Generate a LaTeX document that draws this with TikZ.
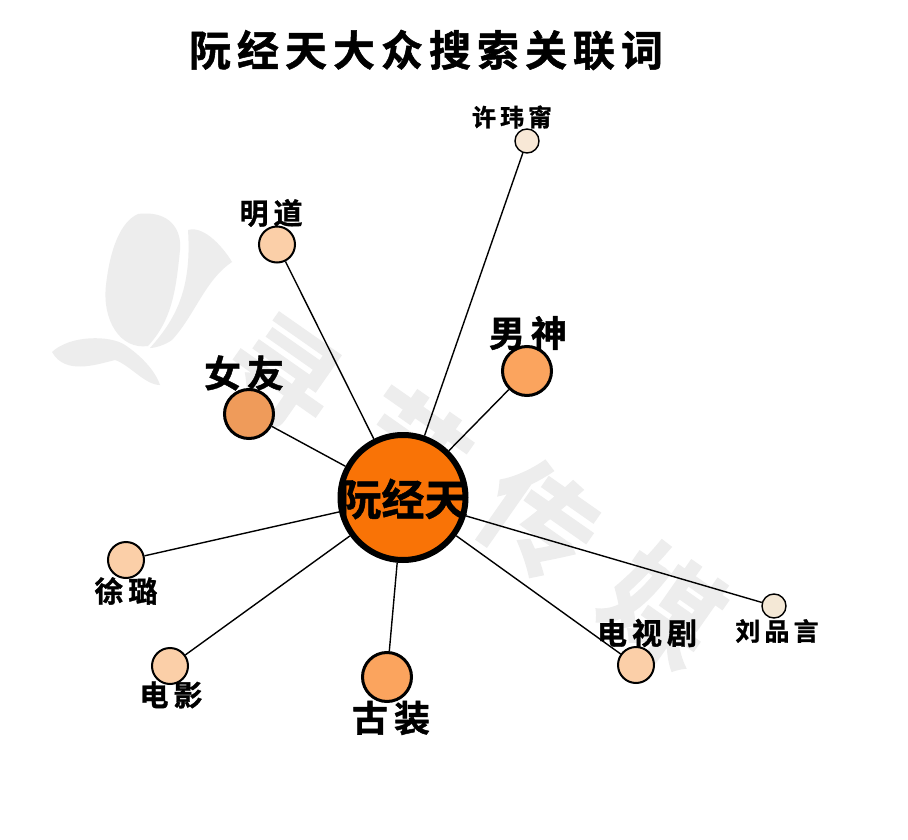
\documentclass[tikz,border=0pt]{standalone}
\usepackage{fontspec}
\newfontfamily\cjk{Noto Sans CJK SC}[BoldFont={Noto Sans CJK SC Bold},BoldFeatures={FakeBold=1.2}]
\newcommand{\sz}[1]{\cjk\bfseries\fontsize{#1}{#1}\selectfont}
\definecolor{wm}{HTML}{EDEDED}
\definecolor{hubc}{HTML}{F97306}
\definecolor{cA}{HTML}{EF9B5A}
\definecolor{cB}{HTML}{FBA45E}
\definecolor{cC}{HTML}{FBCFA8}
\definecolor{cD}{HTML}{F8E8D6}
\definecolor{cE}{HTML}{F4E8D6}
\tikzset{
  hub/.style={circle,draw=black,line width=6pt,fill=hubc,minimum size=125pt,inner sep=0pt},
  big/.style={circle,draw=black,line width=3pt,minimum size=49pt,inner sep=0pt},
  mid/.style={circle,draw=black,line width=2pt,minimum size=36pt,inner sep=0pt},
  tiny/.style={circle,draw=black,line width=1.4pt,minimum size=24pt,inner sep=0pt},
  lab/.style={text=black,inner sep=0pt},
  edge/.style={draw=black,line width=1.4pt},
  wmk/.style={text=wm,inner sep=0pt,rotate=-35,font=\sz{112}}
}
\begin{document}
\begin{tikzpicture}[x=1pt,y=-1pt]
\useasboundingbox (0,0) rectangle (908,840);
\fill[white] (0,0) rectangle (908,840);
% watermark flower
\fill[wm] (138,214) .. controls (170,210) and (182,230) .. (180,250) .. controls (176,290) and (172,320) .. (148,346) .. controls (120,350) and (102,320) .. (106,285) .. controls (110,250) and (120,222) .. (138,214) -- cycle;
\fill[wm] (188,230) .. controls (205,225) and (225,250) .. (232,262) .. controls (205,280) and (195,315) .. (172,340) .. controls (165,345) and (155,348) .. (150,348) .. controls (175,320) and (192,290) .. (188,230) -- cycle;
\fill[wm] (52,352) .. controls (70,335) and (110,335) .. (125,345) .. controls (140,355) and (155,370) .. (160,385) .. controls (145,385) and (130,365) .. (115,360) .. controls (95,365) and (65,375) .. (52,352) -- cycle;
% watermark text
\node[wmk] (w1) at (282,375) {寻};
\node[wmk] (w2) at (410,447) {艺};
\node[wmk] (w3) at (539,520) {传};
\node[wmk] (w4) at (664,605) {媒};
% title
\node[lab,font=\sz{42}] (title) at (426,50) {阮\hspace{6pt}经\hspace{6pt}天\hspace{6pt}大\hspace{6pt}众\hspace{6pt}搜\hspace{6pt}索\hspace{6pt}关\hspace{6pt}联\hspace{6pt}词};
% nodes
\node[hub] (c) at (403,497.5) {};
\node[tiny,fill=cD] (xu) at (527,141) {};
\node[mid,fill=cC] (md) at (277,244.5) {};
\node[big,fill=cB] (ns) at (527,371) {};
\node[big,fill=cA] (nv) at (249,414) {};
\node[mid,fill=cC] (tl) at (126,560) {};
\node[mid,fill=cC] (dy) at (170,666) {};
\node[big,fill=cB] (gz) at (387,677) {};
\node[mid,fill=cC] (ds) at (636,665) {};
\node[tiny,fill=cE] (lp) at (774,606) {};
% edges
\draw[edge] (c) -- (xu);
\draw[edge] (c) -- (md);
\draw[edge] (c) -- (ns);
\draw[edge] (c) -- (nv);
\draw[edge] (c) -- (tl);
\draw[edge] (c) -- (dy);
\draw[edge] (c) -- (gz);
\draw[edge] (c) -- (ds);
\draw[edge] (c) -- (lp);
% labels
\node[lab,font=\sz{43}] (tc) at (403,499) {阮经天};
\node[lab,font=\sz{24}] (l1) at (512,117) {许\,玮\,甯};
\node[lab,font=\sz{29}] (l2) at (271,213) {明\hspace{5pt}道};
\node[lab,font=\sz{36}] (l3) at (528,333) {男\hspace{6pt}神};
\node[lab,font=\sz{37}] (l4) at (244,373) {女\hspace{6pt}友};
\node[lab,font=\sz{29}] (l5) at (126,591) {徐\hspace{5pt}璐};
\node[lab,font=\sz{29}] (l6) at (171,695) {电\hspace{5pt}影};
\node[lab,font=\sz{36}] (l7) at (391,718) {古\hspace{6pt}装};
\node[lab,font=\sz{30}] (l8) at (647,633) {电\hspace{5pt}视\hspace{5pt}剧};
\node[lab,font=\sz{25}] (l9) at (777,631) {刘\,品\,言};
\end{tikzpicture}
\end{document}
